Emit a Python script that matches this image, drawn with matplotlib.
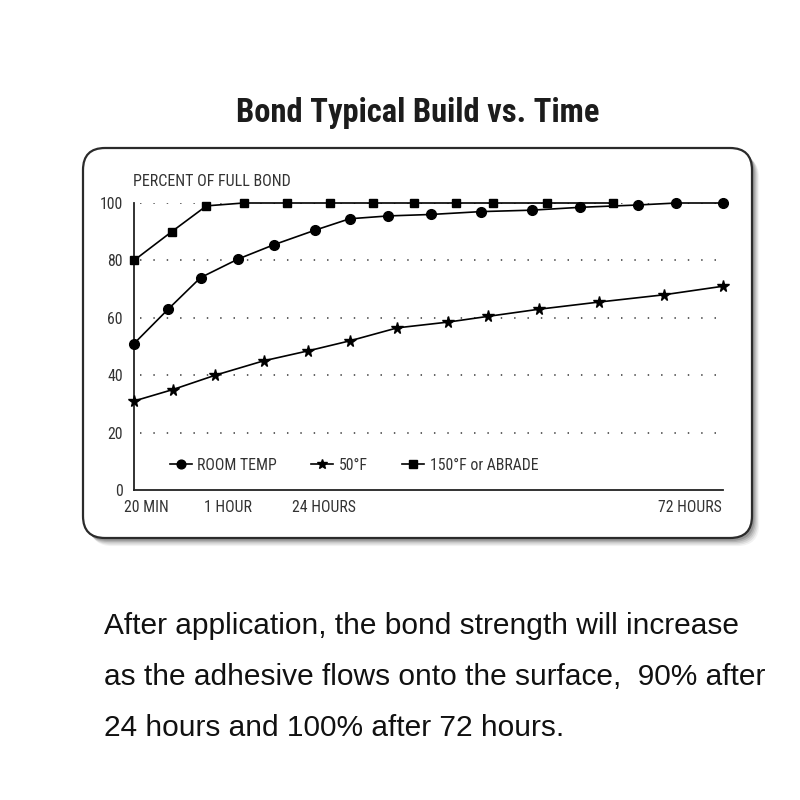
import matplotlib
matplotlib.use("Agg")
import matplotlib.pyplot as plt
from matplotlib import font_manager
from matplotlib.patches import FancyBboxPatch

# ── Data ─────────────────────────────────────────────────────────────────────
# x = position along the (non-linear) time axis, 0 = 20 MIN, 100 = 72 HOURS
room_x = [0, 5.8, 11.3, 17.7, 23.8, 30.7, 36.6, 43.2, 50.4, 58.9, 67.5, 75.8, 85.5, 92.1, 100]
room_y = [51, 63, 74, 80.5, 85.5, 90.5, 94.5, 95.5, 96, 97, 97.5, 98.5, 99.3, 100, 100]

cold_x = [0, 6.6, 13.8, 22.0, 29.6, 36.7, 44.7, 53.3, 60.1, 68.8, 79.0, 89.9, 100]
cold_y = [31, 35, 40, 45, 48.5, 52, 56.5, 58.5, 60.5, 63, 65.5, 68, 71]

hot_x = [0, 6.4, 12.3, 18.6, 25.9, 33.2, 40.6, 47.5, 54.7, 60.9, 70.2, 81.4]
hot_y = [80, 90, 99, 100, 100, 100, 100, 100, 100, 100, 100, 100]

series_labels = ["ROOM TEMP", "50°F", "150°F or ABRADE"]

tick_pos = [2.1, 16.0, 32.2, 94.4]
tick_labels = ["20 MIN", "1 HOUR", "24 HOURS", "72 HOURS"]
y_ticks = [0, 20, 40, 60, 80, 100]
grid_levels = [20, 40, 60, 80, 100]

title = "Bond Typical Build vs. Time"
body_lines = [
    "After application, the bond strength will increase",
    "as the adhesive flows onto the surface,  90% after",
    "24 hours and 100% after 72 hours.",
]

# ── Fonts ────────────────────────────────────────────────────────────────────
names = {(f.name, f.stretch) for f in font_manager.fontManager.ttflist}


def pick_condensed():
    for fam in ["Liberation Sans Narrow", "Roboto Condensed", "Open Sans Condensed"]:
        if any(n == fam for n, _ in names):
            return dict(family=fam)
    if ("DejaVu Sans", "condensed") in names or ("DejaVu Sans", 87.5) in names:
        return dict(family="DejaVu Sans", stretch="condensed")
    return dict(family="Roboto")


COND = pick_condensed()
BODY = dict(family="Liberation Sans")
INK = "#333333"
LAB = 11.3

# ── Canvas ───────────────────────────────────────────────────────────────────
W, H = 800, 800
fig = plt.figure(figsize=(8, 8), dpi=100)
fig.patch.set_facecolor("white")

bg = fig.add_axes([0, 0, 1, 1])
bg.set_xlim(0, W)
bg.set_ylim(H, 0)
bg.axis("off")

# box shadow (soft, right/bottom)
for k, a in enumerate([0.05, 0.07, 0.09, 0.12, 0.16]):
    off = 9 - k * 1.5
    bg.add_patch(FancyBboxPatch((83 + off * 0.8, 148 + off * 0.9), 669, 390,
                                boxstyle="round,pad=0,rounding_size=22",
                                facecolor="black", edgecolor="none", alpha=a,
                                zorder=1))
bg.add_patch(FancyBboxPatch((83, 148), 669, 390,
                            boxstyle="round,pad=0,rounding_size=22",
                            facecolor="white", edgecolor="#2b2b2b",
                            linewidth=1.6, zorder=2))

bg.text(418, 122, title, ha="center", va="baseline", fontsize=23.5,
        fontweight="bold", color="#1c1c1c", **COND)

for i, line in enumerate(body_lines):
    bg.text(104, 634 + i * 51, line, ha="left", va="baseline",
            fontsize=21.5, color="#111111", **BODY)

bg.text(133, 186, "PERCENT OF FULL BOND", ha="left", va="baseline",
        fontsize=11.5, color=INK, **COND)

# ── Chart ────────────────────────────────────────────────────────────────────
ax = fig.add_axes([134 / W, (H - 490) / H, 589 / W, 287 / H])
ax.set_facecolor("none")
ax.set_xlim(0, 100)
ax.set_ylim(0, 100)

for lv in grid_levels:
    ax.axhline(lv, xmin=0.01, xmax=1.0, color="#555555", lw=1.3,
               linestyle=(0, (0.8, 6.6)), zorder=1)

line_kw = dict(color="black", lw=1.2, clip_on=False, zorder=3)
ax.plot(room_x, room_y, marker="o", markersize=7, label=series_labels[0], **line_kw)
ax.plot(cold_x, cold_y, marker="*", markersize=8.5, label=series_labels[1], **line_kw)
ax.plot(hot_x, hot_y, marker="s", markersize=6, label=series_labels[2], **line_kw)

for side in ["top", "right"]:
    ax.spines[side].set_visible(False)
for side in ["left", "bottom"]:
    ax.spines[side].set_color("#222222")
    ax.spines[side].set_linewidth(1.3)

ax.set_yticks(y_ticks)
ax.set_yticklabels([str(v) for v in y_ticks], fontsize=LAB, color=INK, **COND)
ax.set_xticks(tick_pos)
ax.set_xticklabels(tick_labels, fontsize=LAB, color=INK, **COND)
ax.tick_params(axis="both", length=0)
ax.tick_params(axis="y", pad=8)
ax.tick_params(axis="x", pad=7)

leg = ax.legend(loc="center left", bbox_to_anchor=(0.047, 0.087), ncol=3,
                frameon=False, borderpad=0, handlelength=1.4, handletextpad=0.35,
                columnspacing=2.2, markerscale=0.9,
                prop=font_manager.FontProperties(size=LAB, **COND))
for t in leg.get_texts():
    t.set_color(INK)

fig.savefig("out.png", dpi=100, facecolor="white")
